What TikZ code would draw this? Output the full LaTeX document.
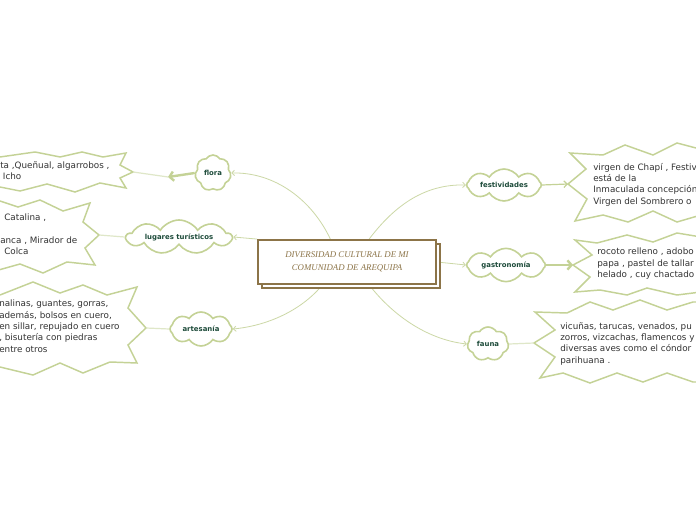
\documentclass[tikz,border=0pt]{standalone}
\usepackage{fontspec}
\newfontfamily\versfont{DejaVu Sans}
\newfontfamily\titlefont{Liberation Serif}
\usetikzlibrary{shapes.symbols,shadows,arrows.meta}

\definecolor{rootbrown}{HTML}{8C7448}
\definecolor{cloudgreen}{HTML}{C4D296}
\definecolor{linkgreen}{HTML}{CCD8A6}
\definecolor{fadegreen}{HTML}{DFE7C8}
\definecolor{topicgreen}{HTML}{1D4B3A}
\definecolor{notegray}{HTML}{333333}

\pgfdeclarelayer{back}
\pgfsetlayers{back,main}

\begin{document}
\begin{tikzpicture}[x=0.75pt,y=-0.75pt]
	\tikzstyle{rootbox} = [draw=rootbrown, line width=1.4pt, fill=white, minimum width=133.5pt, minimum height=33pt, align=center, text=rootbrown, font={\titlefont\itshape\fontsize{6.6}{9.75}\selectfont}, copy shadow={shadow xshift=3pt, shadow yshift=-3pt, draw=rootbrown, fill=white, line width=1.4pt}];
	\tikzstyle{topic} = [cloud, cloud ignores aspect, cloud puff arc=115, draw=cloudgreen, line width=1.2pt, fill=white, inner sep=0pt, text=topicgreen, font={\versfont\bfseries\fontsize{5.2}{6}\selectfont}];
	\tikzstyle{burst} = [draw=cloudgreen, line width=1.1pt, fill=white, line join=miter];
	\tikzstyle{note} = [anchor=north west, inner sep=0pt, align=left, text=notegray, font={\versfont\fontsize{6.6}{8.5}\selectfont}];
	\tikzstyle{branch} = [draw=linkgreen, line width=0.6pt, -{Straight Barb[length=2pt,width=4pt]}];
	\tikzstyle{fadeline} = [draw=fadegreen, line width=0.9pt];
	\tikzstyle{bigarrow} = [draw=cloudgreen, line width=1.8pt, -{Straight Barb[length=3pt,width=7pt]}];
	\tikzstyle{smallarrow} = [draw=cloudgreen, line width=0.9pt, -{Straight Barb[length=2.5pt,width=5pt]}];

	\begin{pgfonlayer}{back}
		\fill[white] (0,0) rectangle (696,520);
	\end{pgfonlayer}
	\useasboundingbox (0,0) rectangle (696,520);

	% central topic
	\node[rootbox] (root) at (347,262) {DIVERSIDAD CULTURAL DE MI\\COMUNIDAD DE AREQUIPA};

	% topics
	\foreach \nm/\x/\y/\w/\h/\p/\txt in {
		flora/213/173/27/27/7/flora,
		lugares/179/237/78.75/25.5/9/lugares turísticos,
		artesania/201/329/46.5/25.5/8/artesanía,
		festividades/504/185/56/24/8/festividades,
		gastronomia/506/265/59/25/8/gastronomía,
		fauna/488/344/31/25.5/7/fauna} {
		\node[topic, cloud puffs=\p, minimum width=\w pt, minimum height=\h pt] (\nm) at (\x,\y) {\txt};
	}

	% callouts, left side
	\coordinate (floraspike) at (133,172);
	\coordinate (lugaresspike) at (99,235);
	\coordinate (artespike) at (146,328);
	\draw[burst] (-5,157) -- (0,157) -- (35,152) -- (60,157) -- (82,152) -- (103,157) -- (126,153) -- (120,165)
		-- (floraspike) -- (120,178) -- (126,188) -- (100,183) -- (75,192) -- (47,184) -- (20,191) -- (-5,186) -- cycle;
	\draw[burst] (-5,201) -- (0,201) -- (18,207) -- (40,200) -- (63,211) -- (90,203) -- (83,222)
		-- (lugaresspike) -- (85,248) -- (95,265) -- (67,262) -- (43,273) -- (20,264) -- (-5,271) -- cycle;
	\draw[burst] (-5,296) -- (0,295) -- (33,282) -- (60,293) -- (83,285) -- (107,295) -- (137,287) -- (128,308)
		-- (artespike) -- (128,345) -- (137,363) -- (110,362) -- (83,373) -- (60,363) -- (33,375) -- (0,367) -- (-5,367) -- cycle;

	% callouts, right side
	\coordinate (festspike) at (568,184);
	\coordinate (gastrospike) at (573,265);
	\coordinate (faunaspike) at (534,343);
	\draw[burst] (701,148) -- (696,148) -- (677,143) -- (653,155) -- (625,145) -- (603,155) -- (570,153) -- (586,169)
		-- (festspike) -- (587,199) -- (575,221) -- (603,215) -- (628,222) -- (653,211) -- (677,222) -- (701,215) -- cycle;
	\draw[burst] (701,237) -- (677,233) -- (653,242) -- (627,235) -- (597,243) -- (575,240) -- (592,255)
		-- (gastrospike) -- (590,277) -- (575,292) -- (600,290) -- (627,295) -- (647,288) -- (677,295) -- (701,292) -- cycle;
	\draw[burst] (701,302) -- (693,302) -- (667,310) -- (640,300) -- (613,310) -- (590,302) -- (567,313) -- (535,312) -- (555,330)
		-- (faunaspike) -- (555,357) -- (540,378) -- (563,373) -- (590,383) -- (617,373) -- (643,382) -- (667,373) -- (693,382) -- (701,382) -- cycle;

	% callout texts
	\node[note] (floranote) at (0,161) {ta ,Queñual, algarrobos ,\\\hspace*{2pt}Icho};
	\node[note] (lugaresnote) at (0,214) {\hspace*{3pt}Catalina ,\\\mbox{}\\anca , Mirador de\\\hspace*{3pt}Colca};
	\node[note] (artenote) at (-1,300) {nalinas, guantes, gorras,\\además, bolsos en cuero,\\en sillar, repujado en cuero\\, bisutería con piedras\\entre otros};
	\node[note] (festnote) at (593,163) {virgen de Chapí , Festiv\\está de la\\Inmaculada concepción\\Virgen del Sombrero o};
	\node[note] (gastronote) at (597,248) {rocoto relleno , adobo\\papa , pastel de tallar\\helado , cuy chactado};
	\node[note] (faunanote) at (560,322) {vicuñas, tarucas, venados, pu\\zorros, vizcachas, flamencos y\\diversas aves como el cóndor\\parihuana .};

	% topic to callout
	\coordinate (florahead) at (168,177);
	\draw[fadeline] (florahead) -- (floraspike);
	\draw[bigarrow] (flora.west) -- (florahead);
	\draw[fadeline] (lugares.west) -- (lugaresspike);
	\draw[fadeline] (artesania.west) -- (artespike);
	\draw[smallarrow] (festividades.east) -- (festspike);
	\draw[bigarrow] (gastronomia.east) -- (gastrospike);
	\draw[fadeline] (fauna.east) -- (faunaspike);

	% root to topics
	\begin{pgfonlayer}{back}
		\draw[branch] (root.126) .. controls (312,200) and (275,172) .. (flora.east);
		\draw[branch] (root.north west) -- (lugares.east);
		\draw[branch] (root.223) .. controls (300,312) and (265,326) .. (artesania.east);
		\draw[branch] (root.46) .. controls (395,205) and (425,184) .. (festividades.west);
		\draw[branch] (root.east) -- (gastronomia.west);
		\draw[branch] (root.314) .. controls (395,318) and (430,340) .. (fauna.west);
	\end{pgfonlayer}
\end{tikzpicture}
\end{document}
